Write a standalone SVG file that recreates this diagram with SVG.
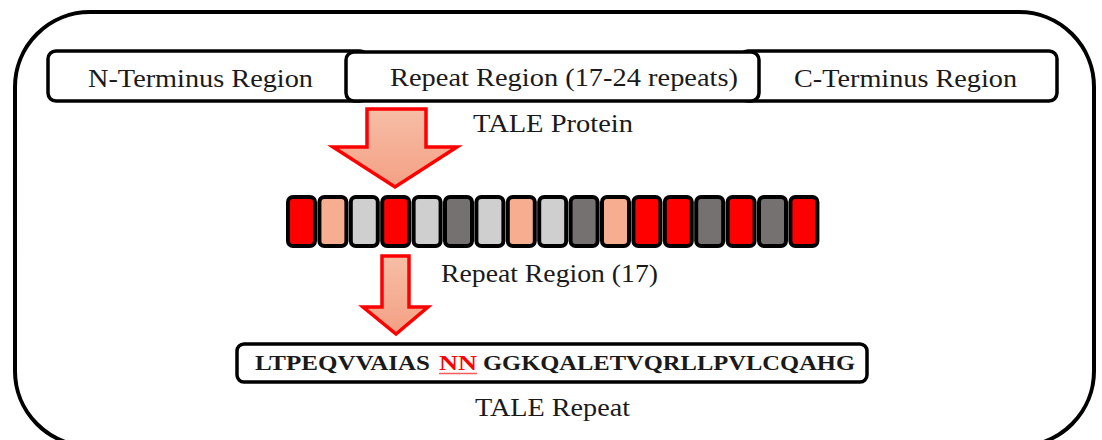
<svg xmlns="http://www.w3.org/2000/svg" width="1102" height="440" viewBox="0 0 1102 440">
<style>
.box{fill:#fff;stroke:#000;stroke-width:3.5}
.lbl{font-family:'Liberation Serif','DejaVu Serif',serif;font-size:26px;fill:#1a1a1a}
.seq{font-family:'Liberation Serif','DejaVu Serif',serif;font-size:21px;font-weight:bold;fill:#1a1a1a}
.bar{stroke:#000;stroke-width:4}
.r{fill:#ff0000}.s{fill:#f7ad8f}.lg{fill:#d0cfcf}.dg{fill:#767171}
.arrow{fill:url(#ag);stroke:#ff0000;stroke-width:3.5;stroke-linejoin:miter}
</style>
<defs>
<linearGradient id="ag" x1="0" y1="0" x2="0" y2="1">
<stop offset="0" stop-color="#f6bea6"/>
<stop offset="1" stop-color="#f4a084"/>
</linearGradient>
</defs>
<rect x="15" y="12" width="1079" height="434" rx="75" fill="#fff" stroke="#000" stroke-width="4"/>
<g id="n-terminus">
<rect class="box" x="48" y="51" width="320" height="50" rx="8"/>
<text class="lbl" x="88" y="87" textLength="225" lengthAdjust="spacingAndGlyphs">N-Terminus Region</text>
</g>
<g id="c-terminus">
<rect class="box" x="740" y="51" width="317" height="50" rx="8"/>
<text class="lbl" x="794" y="87" textLength="223" lengthAdjust="spacingAndGlyphs">C-Terminus Region</text>
</g>
<g id="repeat-region">
<rect class="box" x="346" y="52" width="413" height="49" rx="8"/>
<text class="lbl" x="390" y="86" textLength="348" lengthAdjust="spacingAndGlyphs">Repeat Region (17-24 repeats)</text>
</g>
<g id="tale-protein-label">
<text class="lbl" x="473" y="132" textLength="160" lengthAdjust="spacingAndGlyphs">TALE Protein</text>
</g>
<g id="repeats">
<rect class="bar r" x="288" y="197" width="27" height="49" rx="5"/>
<rect class="bar s" x="319.4" y="197" width="27" height="49" rx="5"/>
<rect class="bar lg" x="350.8" y="197" width="27" height="49" rx="5"/>
<rect class="bar r" x="382.2" y="197" width="27" height="49" rx="5"/>
<rect class="bar lg" x="413.6" y="197" width="27" height="49" rx="5"/>
<rect class="bar dg" x="445" y="197" width="27" height="49" rx="5"/>
<rect class="bar lg" x="476.4" y="197" width="27" height="49" rx="5"/>
<rect class="bar s" x="507.8" y="197" width="27" height="49" rx="5"/>
<rect class="bar lg" x="539.2" y="197" width="27" height="49" rx="5"/>
<rect class="bar dg" x="570.6" y="197" width="27" height="49" rx="5"/>
<rect class="bar s" x="602" y="197" width="27" height="49" rx="5"/>
<rect class="bar r" x="633.4" y="197" width="27" height="49" rx="5"/>
<rect class="bar r" x="664.8" y="197" width="27" height="49" rx="5"/>
<rect class="bar dg" x="696.2" y="197" width="27" height="49" rx="5"/>
<rect class="bar r" x="727.6" y="197" width="27" height="49" rx="5"/>
<rect class="bar dg" x="759" y="197" width="27" height="49" rx="5"/>
<rect class="bar r" x="790.4" y="197" width="27" height="49" rx="5"/>
<text class="lbl" x="441" y="282" textLength="217" lengthAdjust="spacingAndGlyphs">Repeat Region (17)</text>
</g>
<g id="tale-repeat">
<rect class="box" x="237" y="344" width="630" height="38" rx="7"/>
<text class="seq" x="255" y="370" textLength="175" lengthAdjust="spacingAndGlyphs">LTPEQVVAIAS</text>
<text class="seq" x="439" y="370" textLength="38" lengthAdjust="spacingAndGlyphs" style="fill:#ff0000">NN</text>
<line x1="439" y1="373.5" x2="477" y2="373.5" stroke="#ff5a5a" stroke-width="1.6"/>
<text class="seq" x="483" y="370" textLength="372" lengthAdjust="spacingAndGlyphs">GGKQALETVQRLLPVLCQAHG</text>
<text class="lbl" x="475" y="416" textLength="155" lengthAdjust="spacingAndGlyphs">TALE Repeat</text>
</g>
<g id="connectors">
<path class="arrow" d="M367,109 L426,109 L426,147 L457,147 L395,187 L333,147 L367,147 Z"/>
<path class="arrow" d="M382,256 L409,256 L409,307 L428,307 L396,334 L363,307 L382,307 Z"/>
</g>
</svg>
